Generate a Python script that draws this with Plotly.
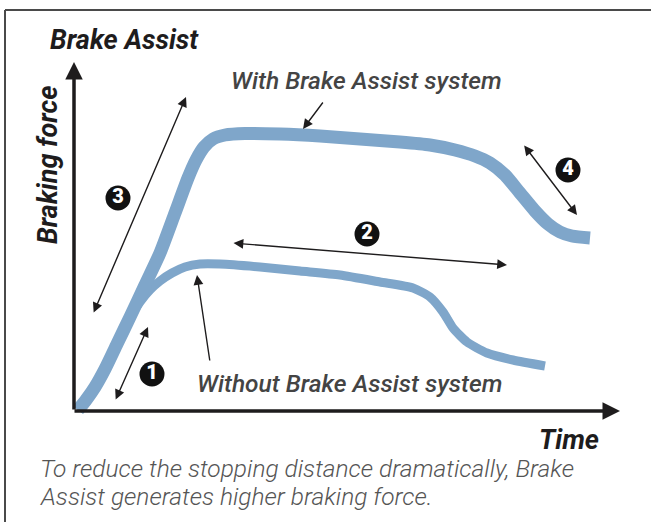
import plotly.graph_objects as go

# --- Data (time units vs braking force units) ---
with_time = [4, 12, 21, 31, 43, 56, 71, 86, 101, 114, 122, 130, 139, 151, 171, 206, 246, 286, 326, 356, 381, 401, 416, 431, 446, 461, 474, 486, 498, 516]
with_force = [1, 11, 24, 42, 67, 94, 126, 158, 198, 233, 251, 264, 272, 276, 277.5, 277, 275, 272, 269, 266, 261, 255, 248, 236, 218, 200, 187, 179, 175, 173]

without_time = [4, 12, 21, 31, 43, 56, 66, 76, 86, 98, 111, 126, 146, 186, 226, 266, 306, 339, 356, 369, 379, 393, 413, 439, 471]
without_force = [1, 11, 24, 42, 67, 94, 109, 121, 130, 138, 144, 147, 147, 144, 140, 136, 129, 123, 114, 99, 83, 69, 58, 51, 45]

marker_labels = ["1", "2", "3", "4"]
marker_time = [78, 293, 44, 494]
marker_force = [37, 177, 213, 241]

# double-headed dimension arrows: (t1, f1, t2, f2)
dim_arrows = [
    (41, 10, 74, 84),     # 1
    (158, 168, 433, 146), # 2
    (19, 97, 112, 314),   # 3
    (449, 267, 503, 196), # 4
]
# pointer arrows: (tail_t, tail_f, tip_t, tip_f)
pointers = [
    (250, 310, 229, 282),  # With Brake Assist system
    (136, 49, 123, 136),   # Without Brake Assist system
]

CURVE = "#7FA6CA"
INK = "#1e1c1d"

fig = go.Figure()
fig.add_trace(go.Scatter(x=without_time, y=without_force, mode="lines",
                         line=dict(color=CURVE, width=9, shape="spline", smoothing=0.6),
                         hoverinfo="skip"))
fig.add_trace(go.Scatter(x=with_time, y=with_force, mode="lines",
                         line=dict(color=CURVE, width=13, shape="spline", smoothing=0.6),
                         hoverinfo="skip"))
fig.add_trace(go.Scatter(x=marker_time, y=marker_force, mode="markers+text",
                         marker=dict(size=25, color="#111111"),
                         text=marker_labels, textposition="middle center",
                         textfont=dict(family="Roboto", size=20, color="white", weight=900),
                         hoverinfo="skip"))

ann = []
# axes arrows
ann.append(dict(x=0, y=349, ax=0, ay=0, xref="x", yref="y", axref="x", ayref="y",
                text="", showarrow=True, arrowhead=2, arrowsize=1, arrowwidth=3.5, arrowcolor=INK))
ann.append(dict(x=546, y=0, ax=-1, ay=0, xref="x", yref="y", axref="x", ayref="y",
                text="", showarrow=True, arrowhead=2, arrowsize=1, arrowwidth=3.5, arrowcolor=INK))
for t1, f1, t2, f2 in dim_arrows:
    ann.append(dict(x=t2, y=f2, ax=t1, ay=f1, xref="x", yref="y", axref="x", ayref="y",
                    text="", showarrow=True, arrowhead=2, startarrowhead=2,
                    arrowside="end+start", arrowsize=1.4, startarrowsize=1.4,
                    arrowwidth=1.4, arrowcolor=INK))
for t1, f1, t2, f2 in pointers:
    ann.append(dict(x=t2, y=f2, ax=t1, ay=f1, xref="x", yref="y", axref="x", ayref="y",
                    text="", showarrow=True, arrowhead=2, arrowsize=1.4,
                    arrowwidth=1.4, arrowcolor=INK))

bold_it = dict(family="Roboto", size=27, color=INK, style="italic", weight=700)
ann.append(dict(x=-26, y=371, xref="x", yref="y", text="Brake Assist", showarrow=False,
                xanchor="left", yanchor="middle", font=bold_it))
ann.append(dict(x=-26, y=246, xref="x", yref="y", text="Braking force", showarrow=False,
                textangle=-90, xanchor="center", yanchor="middle", font=bold_it))
ann.append(dict(x=495, y=-29, xref="x", yref="y", text="Time", showarrow=False,
                xanchor="center", yanchor="middle", font=bold_it))
mid_it = dict(family="Roboto", size=24.5, color="#444444", style="italic", weight=500)
ann.append(dict(x=292, y=331, xref="x", yref="y", text="With Brake Assist system",
                showarrow=False, xanchor="center", yanchor="middle", font=mid_it))
ann.append(dict(x=275, y=28, xref="x", yref="y", text="Without Brake Assist system",
                showarrow=False, xanchor="center", yanchor="middle", font=mid_it))
cap = dict(family="Roboto", size=24.5, color="#555555", style="italic", weight=300)
ann.append(dict(x=-36, y=-57, xref="x", yref="y",
                text="To reduce the stopping distance dramatically, Brake",
                showarrow=False, xanchor="left", yanchor="middle", font=cap))
ann.append(dict(x=-36, y=-85, xref="x", yref="y",
                text="Assist generates higher braking force.",
                showarrow=False, xanchor="left", yanchor="middle", font=cap))

shapes = [
    dict(type="line", xref="paper", yref="paper", x0=5 / 651, x1=1.01, y0=1 - 10 / 522, y1=1 - 10 / 522,
         line=dict(color="#4a4a4a", width=2)),
    dict(type="line", xref="paper", yref="paper", x0=5 / 651, x1=5 / 651, y0=-0.01, y1=1 - 10 / 522,
         line=dict(color="#4a4a4a", width=2)),
]

fig.update_layout(
    width=651, height=522,
    margin=dict(l=0, r=0, t=0, b=0),
    paper_bgcolor="white", plot_bgcolor="white",
    showlegend=False,
    hovermode=False,
    xaxis=dict(range=[-74, 577], visible=False, fixedrange=True),
    yaxis=dict(range=[-111, 411], visible=False, fixedrange=True),
    annotations=ann, shapes=shapes,
)

fig.write_html("out.html", config={"displayModeBar": False, "staticPlot": True},
               post_script="document.body.style.margin='0';document.body.style.overflow='hidden';")
